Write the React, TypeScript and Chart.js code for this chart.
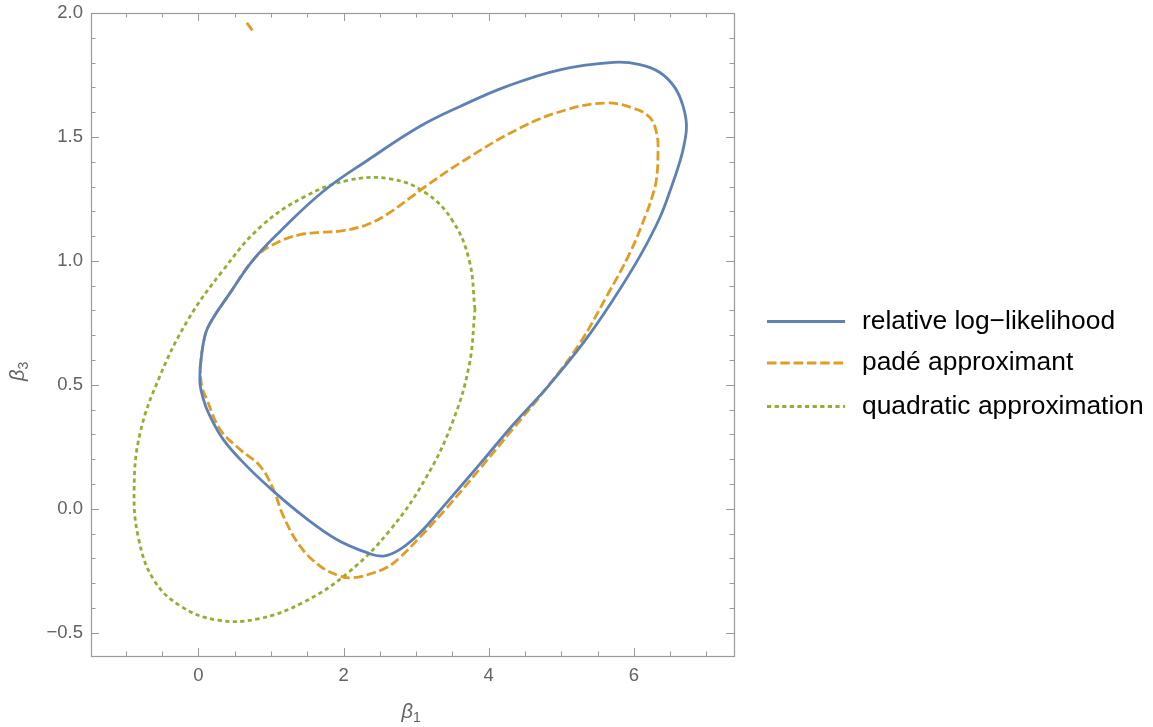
import React, { useEffect, useRef } from "react";
import { Chart, registerables } from "chart.js";

Chart.register(...registerables);

// Contour of the relative log-likelihood (closed curve, listed in order)
const likelihoodX = [0.023, 0.065, 0.138, 0.437, 0.758, 1.125, 1.722, 2.342, 3.054, 3.605, 4.248, 4.979, 5.716, 6.084, 6.359, 6.566, 6.676, 6.725, 6.69, 6.621, 6.525, 6.359, 6.084, 5.716, 5.303, 4.817, 4.339, 3.88, 3.421, 3.054, 2.778, 2.548, 2.32, 1.906, 1.446, 1.033, 0.667, 0.344, 0.138, 0.069, 0.023];
const likelihoodY = [0.562, 0.663, 0.736, 0.871, 1.005, 1.119, 1.281, 1.408, 1.543, 1.623, 1.704, 1.771, 1.801, 1.792, 1.76, 1.699, 1.626, 1.546, 1.465, 1.388, 1.304, 1.175, 1.019, 0.844, 0.669, 0.494, 0.34, 0.181, 0.025, -0.097, -0.164, -0.191, -0.177, -0.124, -0.03, 0.071, 0.172, 0.279, 0.387, 0.441, 0.501];

// Contour of the Padé approximant
const padeX = [0.023, 0.065, 0.138, 0.437, 0.795, 1.08, 1.401, 1.676, 1.997, 2.32, 2.595, 2.916, 3.099, 3.605, 4.431, 5.074, 5.625, 5.992, 6.222, 6.318, 6.332, 6.311, 6.249, 6.176, 5.946, 5.625, 5.258, 4.803, 4.339, 3.88, 3.421, 3.054, 2.778, 2.6, 2.365, 2.135, 1.952, 1.676, 1.401, 1.171, 1.033, 0.85, 0.574, 0.299, 0.116, 0.047];
const padeY = [0.57, 0.663, 0.736, 0.871, 1.017, 1.073, 1.106, 1.115, 1.122, 1.146, 1.187, 1.254, 1.294, 1.395, 1.536, 1.61, 1.637, 1.616, 1.578, 1.509, 1.429, 1.328, 1.255, 1.194, 1.032, 0.857, 0.669, 0.489, 0.324, 0.162, 0.003, -0.114, -0.196, -0.236, -0.263, -0.278, -0.272, -0.231, -0.151, -0.03, 0.078, 0.172, 0.239, 0.32, 0.441, 0.494];

// Small stray branch of the Padé contour near the top edge
const padeBranchX = [0.667, 0.744];
const padeBranchY = [1.96, 1.93];

// Contour of the quadratic approximation
const quadX = [3.811, 3.731, 3.497, 3.124, 2.638, 2.07, 1.463, 0.855, 0.326, -0.142, -0.534, -0.806, -0.886, -0.824, -0.61, -0.238, 0.258, 0.822, 1.442, 2.07, 2.638, 3.124, 3.497, 3.731];
const quadY = [0.804, 1.003, 1.164, 1.276, 1.331, 1.325, 1.259, 1.137, 0.957, 0.763, 0.533, 0.302, 0.078, -0.121, -0.289, -0.394, -0.449, -0.444, -0.378, -0.256, -0.087, 0.119, 0.346, 0.579];

const seriesNames = ["relative log\u2212likelihood", "pad\u00e9 approximant", "quadratic approximation"];

const xRange = [-1.48, 7.38];
const yRange = [-0.594, 2.0];
const xMajorTicks = [0, 2, 4, 6];
const xMinorTicks = [-1, -0.5, 0.5, 1, 1.5, 2.5, 3, 3.5, 4.5, 5, 5.5, 6.5, 7];
const yMajorTicks = [-0.5, 0, 0.5, 1, 1.5, 2];
const yMinorTicks = [-0.4, -0.3, -0.2, -0.1, 0.1, 0.2, 0.3, 0.4, 0.6, 0.7, 0.8, 0.9, 1.1, 1.2, 1.3, 1.4, 1.6, 1.7, 1.8, 1.9];

const BLUE = "#5E81B5";
const ORANGE = "#E19C24";
const GREEN = "#8FB032";
const FRAME = "#9a9a9a";
const LABEL = "#626262";
const FONT = "'Liberation Sans', Arial, sans-serif";

const lineStyles = [
  { color: BLUE, dash: [] as number[] },
  { color: ORANGE, dash: [9.5, 3.8] },
  { color: GREEN, dash: [4.2, 3.4] },
];

function closedPath(xs: number[], ys: number[]) {
  const pts = xs.map((x, i) => ({ x, y: ys[i] }));
  pts.push({ x: xs[0], y: ys[0] });
  return pts;
}

function openPath(xs: number[], ys: number[]) {
  return xs.map((x, i) => ({ x, y: ys[i] }));
}

const framePlugin = {
  id: "mmaFrame",
  afterDatasetsDraw(chart: any) {
    const { ctx, chartArea: a, scales } = chart;
    const xs = scales.x;
    const ys = scales.y;
    ctx.save();
    ctx.strokeStyle = FRAME;
    ctx.lineWidth = 1.2;
    ctx.strokeRect(a.left + 0.5, a.top + 0.5, a.right - a.left, a.bottom - a.top);

    const seg = (x1: number, y1: number, x2: number, y2: number) => {
      ctx.beginPath();
      ctx.moveTo(x1, y1);
      ctx.lineTo(x2, y2);
      ctx.stroke();
    };
    const xTick = (v: number, len: number) => {
      const p = Math.round(xs.getPixelForValue(v)) + 0.5;
      seg(p, a.bottom, p, a.bottom - len);
      seg(p, a.top, p, a.top + len);
    };
    const yTick = (v: number, len: number) => {
      const p = Math.round(ys.getPixelForValue(v)) + 0.5;
      seg(a.left, p, a.left + len, p);
      seg(a.right, p, a.right - len, p);
    };
    ctx.lineWidth = 1;
    xMajorTicks.forEach((v) => xTick(v, 8));
    xMinorTicks.forEach((v) => xTick(v, 4.5));
    yMajorTicks.forEach((v) => yTick(v, 8));
    yMinorTicks.forEach((v) => yTick(v, 4.5));

    // Axis labels: beta_1 (bottom) and beta_3 (left, rotated)
    ctx.fillStyle = LABEL;
    ctx.textBaseline = "alphabetic";
    ctx.textAlign = "left";
    const cx = (a.left + a.right) / 2;
    ctx.font = `italic 20px ${FONT}`;
    const bw = ctx.measureText("\u03b2").width;
    const bx = cx - 11;
    ctx.fillText("\u03b2", bx, 718);
    ctx.font = `14px ${FONT}`;
    ctx.fillText("1", bx + bw, 722);

    ctx.save();
    ctx.translate(24, 381);
    ctx.rotate(-Math.PI / 2);
    ctx.font = `italic 20px ${FONT}`;
    ctx.fillText("\u03b2", 0, 0);
    ctx.font = `14px ${FONT}`;
    ctx.fillText("3", bw, 4);
    ctx.restore();

    // Legend
    const legendY = [321.5, 363, 406.5];
    chart.data.datasets.slice(0, 3).forEach((ds: any, i: number) => {
      ctx.save();
      ctx.strokeStyle = ds.borderColor;
      ctx.lineWidth = ds.borderWidth;
      ctx.setLineDash(ds.borderDash || []);
      ctx.lineCap = "butt";
      seg(767, legendY[i], 845, legendY[i]);
      ctx.restore();
      ctx.fillStyle = "#000000";
      ctx.font = `26.4px ${FONT}`;
      ctx.textBaseline = "middle";
      ctx.textAlign = "left";
      ctx.fillText(seriesNames[i], 862, legendY[i]);
    });
    ctx.restore();
  },
};

function fmt(v: number) {
  const s = Math.abs(v).toFixed(1);
  return v < -1e-9 ? "\u2212" + s : s;
}

export default function App() {
  const canvasRef = useRef<HTMLCanvasElement | null>(null);

  useEffect(() => {
    const canvas = canvasRef.current;
    if (!canvas) return;
    const mk = (label: string, data: any[], i: number) => ({
      label,
      data,
      showLine: true,
      fill: false,
      borderColor: lineStyles[i].color,
      backgroundColor: lineStyles[i].color,
      borderWidth: 2.8,
      borderDash: lineStyles[i].dash,
      borderCapStyle: "butt",
      pointRadius: 0,
      pointHoverRadius: 0,
      tension: 0.4,
    });
    const chart = new Chart(canvas, {
      type: "scatter",
      data: {
        datasets: [
          mk(seriesNames[0], closedPath(likelihoodX, likelihoodY), 0),
          mk(seriesNames[1], closedPath(padeX, padeY), 1),
          mk(seriesNames[2], closedPath(quadX, quadY), 2),
          mk("branch", openPath(padeBranchX, padeBranchY), 1),
        ] as any,
      },
      options: {
        animation: false,
        responsive: false,
        devicePixelRatio: 1,
        layout: { padding: { top: 13, right: 419, left: 0, bottom: 0 } },
        plugins: { legend: { display: false }, tooltip: { enabled: false } },
        scales: {
          x: {
            type: "linear",
            min: xRange[0],
            max: xRange[1],
            grid: { display: false, drawTicks: false },
            border: { display: false },
            ticks: {
              padding: 9,
              color: LABEL,
              font: { size: 18.5, family: FONT },
              maxRotation: 0,
              callback: (v: any) => String(v),
            },
            afterBuildTicks: (s: any) => {
              s.ticks = xMajorTicks.map((value) => ({ value }));
            },
            afterFit: (s: any) => {
              s.height = 71;
              s.paddingLeft = 0;
              s.paddingRight = 0;
            },
          },
          y: {
            type: "linear",
            min: yRange[0],
            max: yRange[1],
            grid: { display: false, drawTicks: false },
            border: { display: false },
            ticks: {
              padding: 8,
              color: LABEL,
              font: { size: 18.5, family: FONT },
              callback: (v: any) => fmt(Number(v)),
            },
            afterBuildTicks: (s: any) => {
              s.ticks = yMajorTicks.map((value) => ({ value }));
            },
            afterFit: (s: any) => {
              s.width = 91;
              s.paddingTop = 0;
              s.paddingBottom = 0;
            },
          },
        },
      } as any,
      plugins: [framePlugin],
    });
    return () => chart.destroy();
  }, []);

  return (
    <div style={{ position: "fixed", left: 0, top: 0, width: 1153, height: 727, background: "#ffffff" }}>
      <canvas ref={canvasRef} width={1153} height={727} style={{ width: 1153, height: 727, display: "block" }} />
    </div>
  );
}
